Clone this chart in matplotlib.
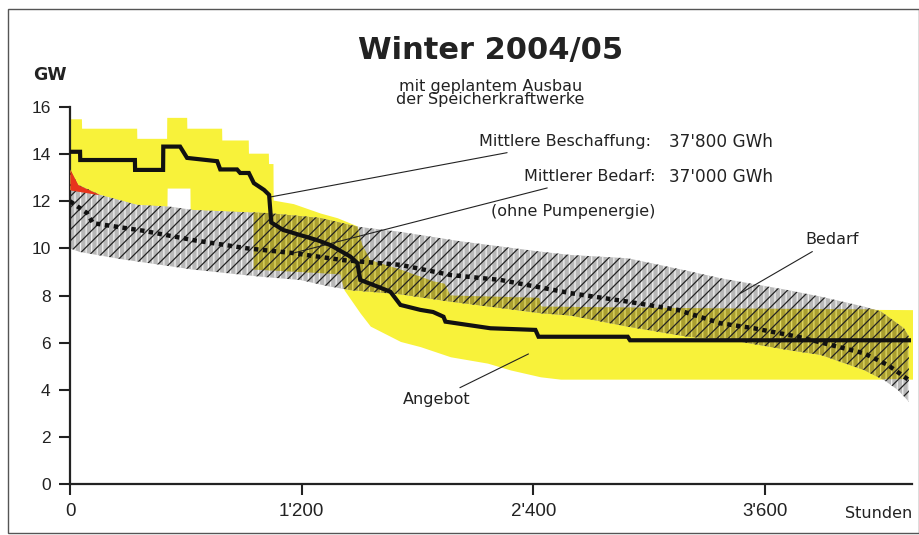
import matplotlib.pyplot as plt
from matplotlib.patches import Rectangle
import numpy as np

plt.rcParams['font.family'] = ['Liberation Sans', 'DejaVu Sans']
plt.rcParams['hatch.linewidth'] = 0.9
WIDE = ['DejaVu Sans']

# Stunden (hours) / GW
SUPPLY_H = [0, 52, 53, 336, 337, 482, 483, 570, 606, 762, 778, 865, 881, 926,
            952, 1005, 1031, 1042, 1104, 1280, 1348, 1452, 1488, 1503, 1570,
            1659, 1711, 1814, 1880, 1934, 1944, 2177, 2410, 2426, 2888, 2900, 4344]
SUPPLY_GW = [14.1, 14.1, 13.75, 13.75, 13.33, 13.33, 14.32, 14.32, 13.84, 13.7,
             13.35, 13.35, 13.2, 13.2, 12.77, 12.48, 12.27, 11.1, 10.78, 10.35,
             10.14, 9.65, 9.38, 8.66, 8.45, 8.16, 7.6, 7.39, 7.3, 7.1, 6.89, 6.61,
             6.54, 6.25, 6.25, 6.1, 6.1]

SUP_MAX_H = [0, 59, 60, 345, 346, 500, 501, 604, 605, 785, 786, 923, 924, 1027,
             1028, 1051, 1052, 1156, 1296, 1384, 1488, 1514, 1555, 1711, 1882,
             1940, 1970, 2430, 2440, 3400, 4370]
SUP_MAX_GW = [15.5, 15.5, 15.1, 15.1, 14.67, 14.67, 15.56, 15.56, 15.1, 15.1,
              14.6, 14.6, 14.04, 14.04, 13.6, 13.6, 12.05, 11.9, 11.5, 11.3, 10.95,
              10.14, 9.5, 9.1, 8.6, 8.5, 8.0, 7.9, 7.53, 7.45, 7.4]

SUP_MIN_H = [0, 156, 347, 502, 503, 621, 622, 950, 951, 1190, 1400, 1420, 1503,
             1555, 1711, 1814, 1970, 2162, 2281, 2436, 2540, 4370]
SUP_MIN_GW = [12.48, 12.27, 11.85, 11.78, 12.56, 12.56, 11.64, 11.52, 9.1, 9.0,
              8.9, 8.23, 7.25, 6.7, 6.05, 5.83, 5.4, 5.13, 4.84, 4.55, 4.45, 4.45]

DEM_MAX_H = [0, 41, 156, 347, 518, 638, 950, 1021, 1296, 1488, 1711, 2022, 2437,
             2592, 2888, 3178, 3370, 3717, 3888, 4111, 4199, 4318, 4344]
DEM_MAX_GW = [13.35, 12.7, 12.27, 11.85, 11.77, 11.63, 11.52, 11.5, 11.29, 10.92,
              10.7, 10.3, 9.86, 9.72, 9.58, 9.08, 8.73, 8.23, 7.95, 7.53, 7.32,
              6.61, 6.25]

DEM_MIN_H = [0, 50, 260, 638, 985, 1192, 1332, 1452, 1711, 1970, 2229, 2436,
             2592, 2888, 3199, 3421, 3717, 3888, 4111, 4215, 4287, 4344]
DEM_MIN_GW = [10.0, 9.85, 9.55, 9.1, 8.8, 8.66, 8.4, 8.23, 8.05, 7.74, 7.47, 7.25,
              7.15, 6.68, 6.25, 6.11, 5.69, 5.48, 4.84, 4.41, 3.99, 3.49]

DEM_MEAN_H = [0, 88, 119, 378, 638, 918, 1156, 1415, 1711, 1970, 2229, 2592,
              2888, 3147, 3370, 3541, 3769, 3940, 4111, 4235, 4344]
DEM_MEAN_GW = [12.0, 11.5, 11.07, 10.75, 10.35, 10.0, 9.8, 9.5, 9.3, 8.87, 8.66,
               8.1, 7.74, 7.39, 6.82, 6.61, 6.25, 5.9, 5.55, 5.05, 4.41]

X_TICKS = [0, 1200, 2400, 3600]
X_LABELS = ["0", "1'200", "2'400", "3'600"]
Y_TICKS = [0, 2, 4, 6, 8, 10, 12, 14, 16]

YELLOW = '#f8f23a'
GRAY = '#b8b8b8'
OLIVE = '#aa9f30'
RED = '#e8341c'
INK = '#222222'

fig = plt.figure(figsize=(9.2, 5.35), dpi=100)
ax = fig.add_axes([0.0761, 0.0953, 0.9152, 0.7047])

# common grid for the bands
grid = np.unique(np.concatenate([np.linspace(0, 4370, 2500), SUP_MAX_H,
                                 SUP_MIN_H, DEM_MAX_H, DEM_MIN_H]))
dgrid = grid[grid <= DEM_MAX_H[-1]]
s_hi = np.interp(grid, SUP_MAX_H, SUP_MAX_GW)
s_lo = np.interp(grid, SUP_MIN_H, SUP_MIN_GW)
d_hi = np.interp(dgrid, DEM_MAX_H, DEM_MAX_GW)
d_lo = np.interp(dgrid, DEM_MIN_H, DEM_MIN_GW)

# supply range (Angebot)
ax.fill_between(grid, s_lo, s_hi, color=YELLOW, lw=0, zorder=1)

# demand range (Bedarf), hatched
ax.fill_between(dgrid, d_lo, d_hi, facecolor=GRAY, edgecolor='#f2f2f2',
                hatch='|||', lw=0, zorder=2)
ax.fill_between(dgrid, d_lo, d_hi, facecolor='none', edgecolor=INK,
                hatch='///', lw=0, zorder=2.1)

# overlap of both ranges
s_hi_d = np.interp(dgrid, SUP_MAX_H, SUP_MAX_GW)
s_lo_d = np.interp(dgrid, SUP_MIN_H, SUP_MIN_GW)
ov_lo = np.maximum(s_lo_d, d_lo)
ov_hi = np.minimum(s_hi_d, d_hi)
mask = ov_hi - ov_lo > 0.03
ax.fill_between(dgrid, ov_lo, ov_hi, where=mask, facecolor=OLIVE,
                edgecolor='#e2da66', hatch='|||', lw=0, zorder=3)
ax.fill_between(dgrid, ov_lo, ov_hi, where=mask, facecolor='none',
                edgecolor=INK, hatch='///', lw=0, zorder=3.1)

# deficit at the start: demand above lowest supply
red = (dgrid <= 160) & (d_hi - s_lo_d > 0.01)
ax.fill_between(dgrid, s_lo_d, d_hi, where=red, color=RED, lw=0, zorder=4)

ax.plot(DEM_MEAN_H, DEM_MEAN_GW, color='#111111', lw=3.2,
        linestyle=(0, (1.0, 1.0)), zorder=5)
ax.plot(SUPPLY_H, SUPPLY_GW, color='#111111', lw=3, zorder=6,
        solid_joinstyle='miter')

ax.set_xlim(0, 4360)
ax.set_ylim(0, 16)
ax.set_xticks(X_TICKS, X_LABELS)
ax.set_yticks(Y_TICKS)
for s in ['top', 'right']:
    ax.spines[s].set_visible(False)
for s in ['left', 'bottom']:
    ax.spines[s].set_linewidth(1.6)
    ax.spines[s].set_color(INK)
ax.tick_params(axis='both', length=8, width=1.5, color=INK,
               labelsize=12.5, labelcolor=INK)
ax.tick_params(axis='x', pad=6, labelsize=13.5)
ax.tick_params(axis='y', pad=6)
ax.text(4360, -0.95, 'Stunden', ha='right', va='top', fontsize=11.5,
        color=INK, family=WIDE)

# annotations
tkw = dict(fontsize=11.5, color=INK, va='center', family=WIDE)
lkw = dict(arrowstyle='-', color=INK, lw=0.8, shrinkA=2, shrinkB=0)
ax.annotate('Mittlere Beschaffung:', xy=(1037, 12.18), xytext=(3007, 14.52),
            ha='right', arrowprops=lkw, **tkw)
ax.annotate('Mittlerer Bedarf:', xy=(1156, 9.8), xytext=(3033, 13.03),
            ha='right', arrowprops=lkw, **tkw)
ax.text(3100, 14.52, "37'800 GWh", ha='left', fontsize=12.2, color=INK,
        va='center', family=WIDE)
ax.text(3100, 13.03, "37'000 GWh", ha='left', fontsize=12.2, color=INK,
        va='center', family=WIDE)
ax.text(3033, 11.55, '(ohne Pumpenergie)', ha='right', **tkw)
ax.annotate('Bedarf', xy=(3473, 8.1), xytext=(3810, 10.36),
            ha='left', arrowprops=lkw, **tkw)
ax.annotate('Angebot', xy=(2374, 5.52), xytext=(2073, 3.6),
            ha='right', arrowprops=lkw, **tkw)

fig.text(0.533, 0.9065, 'Winter 2004/05', ha='center', va='center',
         fontsize=22, fontweight='bold', color=INK, family=WIDE)
fig.text(0.533, 0.826, 'mit geplantem Ausbau\nder Speicherkraftwerke',
         ha='center', va='center', fontsize=11.5, color=INK,
         linespacing=0.9, family=WIDE)
fig.text(0.054, 0.86, 'GW', ha='center', va='center', fontsize=12.5,
         fontweight='bold', color=INK, family=WIDE)

fig.add_artist(Rectangle((8 / 920, 2 / 535), 911 / 920, 524 / 535,
                         transform=fig.transFigure, fill=False, lw=1,
                         ec='#555555'))

fig.savefig('out.png', dpi=100)
